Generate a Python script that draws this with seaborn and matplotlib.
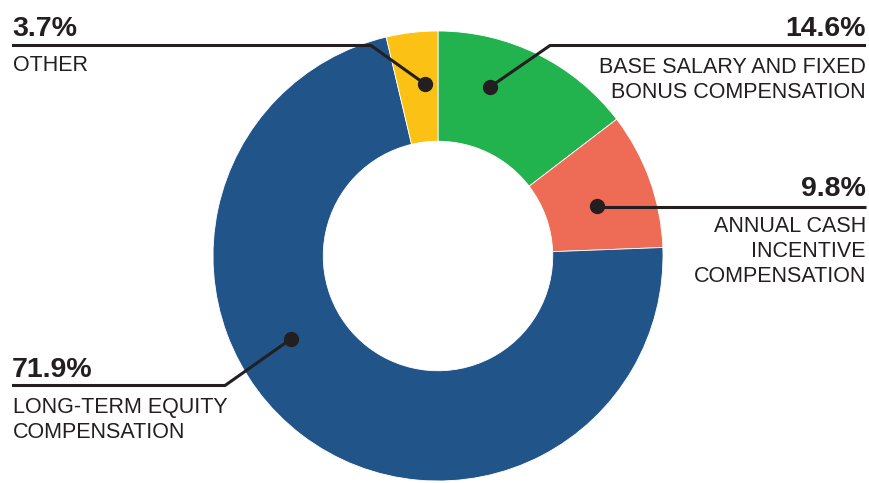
import matplotlib
matplotlib.use("Agg")
import matplotlib.pyplot as plt
import seaborn as sns

categories = ["BASE SALARY AND FIXED\nBONUS COMPENSATION",
              "ANNUAL CASH\nINCENTIVE\nCOMPENSATION",
              "LONG-TERM EQUITY\nCOMPENSATION",
              "OTHER"]
values = [14.6, 9.8, 71.9, 3.7]
pct_labels = ["14.6%", "9.8%", "71.9%", "3.7%"]
colors = ["#22B24E", "#EE6C55", "#21558A", "#FBC115"]

sns.set_theme(style="white")
plt.rcParams["font.family"] = ["Liberation Sans", "DejaVu Sans"]

W, H = 870, 483
fig = plt.figure(figsize=(W / 100, H / 100), dpi=100)
ax = fig.add_axes([0, 0, 1, 1])


def Y(y):
    return H - y


cx, cy, R = 438, 256, 225
palette = sns.color_palette(colors)
ax.pie(values, colors=palette, startangle=90, counterclock=False,
       center=(cx, Y(cy)), radius=R,
       wedgeprops=dict(width=R * 0.49, edgecolor="white", linewidth=0.6),
       frame=True)
ax.set_xlim(0, W)
ax.set_ylim(0, H)
ax.set_aspect("equal")
ax.axis("off")

lc = "#231F20"
lw = 2.2
pct_fs = 20.5
lab_fs = 15.5


def leader(points, dot):
    xs = [p[0] for p in points]
    ys = [Y(p[1]) for p in points]
    ax.plot(xs, ys, color=lc, lw=lw, solid_capstyle="butt", zorder=5)
    ax.plot(dot[0], Y(dot[1]), "o", color=lc, ms=10, zorder=6)


def multiline(text, x, y0, ha, step=25):
    for i, s in enumerate(text.split("\n")):
        ax.text(x, Y(y0 + i * step), s, fontsize=lab_fs, color=lc,
                ha=ha, va="baseline")


def pct(text, x, y, ha):
    ax.text(x, Y(y), text, fontsize=pct_fs, fontweight="bold",
            color=lc, ha=ha, va="baseline")


# 3.7% OTHER
leader([(12, 45.5), (371, 45.5), (425, 84)], (425, 84))
pct(pct_labels[3], 12, 35.5, "left")
multiline(categories[3], 13, 71, "left")

# 14.6% base salary
leader([(866, 45.5), (550, 45.5), (490, 87)], (490, 87))
pct(pct_labels[0], 866, 35.5, "right")
multiline(categories[0], 866, 73, "right")

# 9.8% annual cash
leader([(866, 207), (597, 207)], (597, 206))
pct(pct_labels[1], 866, 196.5, "right")
multiline(categories[1], 866, 232, "right")

# 71.9% long-term equity
leader([(12, 385.5), (225, 385.5), (291, 339)], (291, 339))
pct(pct_labels[2], 12, 377, "left")
multiline(categories[2], 13, 413, "left")

fig.savefig("out.png", dpi=100)
